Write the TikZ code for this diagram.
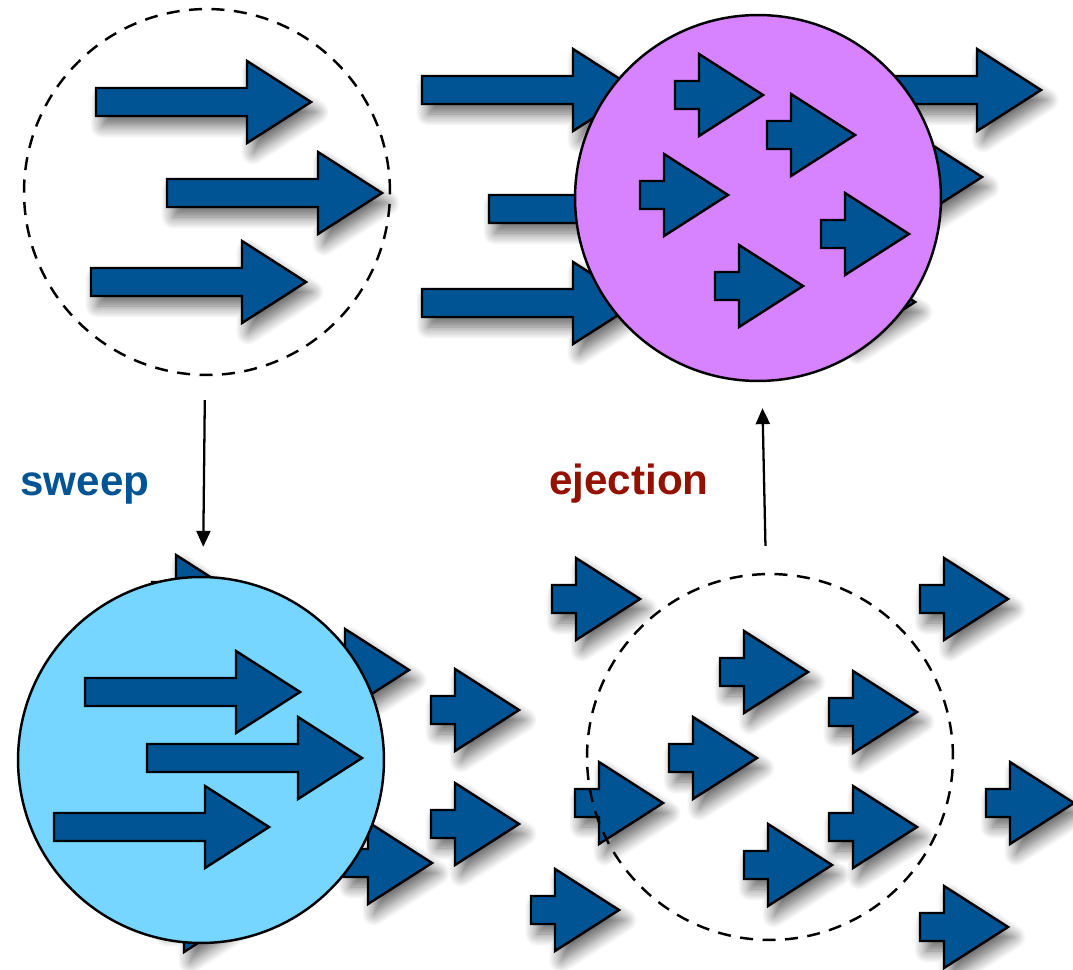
\documentclass[tikz,border=0pt]{standalone}
\usepackage{fontspec}
\setmainfont{Liberation Sans}
\usetikzlibrary{arrows.meta,shadows.blur}

\definecolor{ocean}{RGB}{0,84,147}
\definecolor{lavender}{RGB}{215,131,255}
\definecolor{sky}{RGB}{118,214,255}
\definecolor{cayenne}{RGB}{148,17,0}

\tikzset{
    longarrow/.pic={
        \path[#1] (-215,-14) -- (-64,-14) -- (-64,-41) -- (0,0)
            -- (-64,41) -- (-64,14) -- (-215,14) -- cycle;
    },
    shortarrow/.pic={
        \path[#1] (-88,-14) -- (-64,-14) -- (-64,-41) -- (0,0)
            -- (-64,41) -- (-64,14) -- (-88,14) -- cycle;
    },
}

\begin{document}
\begin{tikzpicture}[
    x=0.02cm, y=-0.02cm,
    flatflow/.style={draw=black, line width=1.4pt, fill=ocean, line join=miter},
    flow/.style={flatflow, blur shadow={shadow xshift=0.12cm, shadow yshift=-0.2cm,
                 shadow blur radius=0.24cm, shadow blur steps=12, shadow opacity=60}},
    region/.style={circle, draw=black, line width=1.4pt, minimum size=7.32cm, inner sep=0pt},
    idle/.style={region, dash pattern=on 0.26cm off 0.19cm},
    link/.style={-{Triangle[length=0.32cm,width=0.28cm]}, line width=1.3pt},
    tag/.style={font=\fontsize{24}{28}\selectfont\bfseries, inner sep=0pt, anchor=base west},
]
\useasboundingbox (0,0) rectangle (1073,970);

% Oben links: ruhige Stroemung
\foreach \tx/\ty in {311/102, 382/193, 306/282}
    \pic at (\tx,\ty) {longarrow=flow};
\node[idle] (calm) at (207,192) {};

% Oben rechts: Ejektion
\foreach \tx/\ty in {637/90, 704/209, 637/303, 1041/90, 982/177, 915/302}
    \pic at (\tx,\ty) {longarrow=flow};
\node[region, fill=lavender] (eject) at (758,198) {};
\foreach \tx/\ty in {763/95, 855/135, 728/195, 909/234, 803/286}
    \pic at (\tx,\ty) {shortarrow=flatflow};

% Unten links: Sweep
\foreach \tx/\ty in {240/596, 409/670, 519/710, 519/824, 432/863, 248/911}
    \pic at (\tx,\ty) {shortarrow=flow};
\node[region, fill=sky] (sweep) at (201,760) {};
\foreach \tx/\ty in {300/692, 362/758, 269/827}
    \pic at (\tx,\ty) {longarrow=flatflow};

% Unten rechts: langsame Stroemung
\foreach \tx/\ty in {640/599, 1008/599, 808/672, 917/712, 757/758, 663/803,
                     1074/803, 917/827, 832/865, 619/910, 1008/927}
    \pic at (\tx,\ty) {shortarrow=flow};
\node[idle] (slow) at (770,757) {};

% Uebergaenge
\draw[link, shorten <=0.48cm, shorten >=0.58cm] (calm) -- (sweep);
\draw[link, shorten <=0.54cm, shorten >=0.52cm] (slow) -- (eject);

% Beschriftungen
\node[tag, text=ocean] (sweeplabel) at (20,495) {sweep};
\node[tag, text=cayenne] (ejectlabel) at (549,494) {ejection};

\end{tikzpicture}
\end{document}
